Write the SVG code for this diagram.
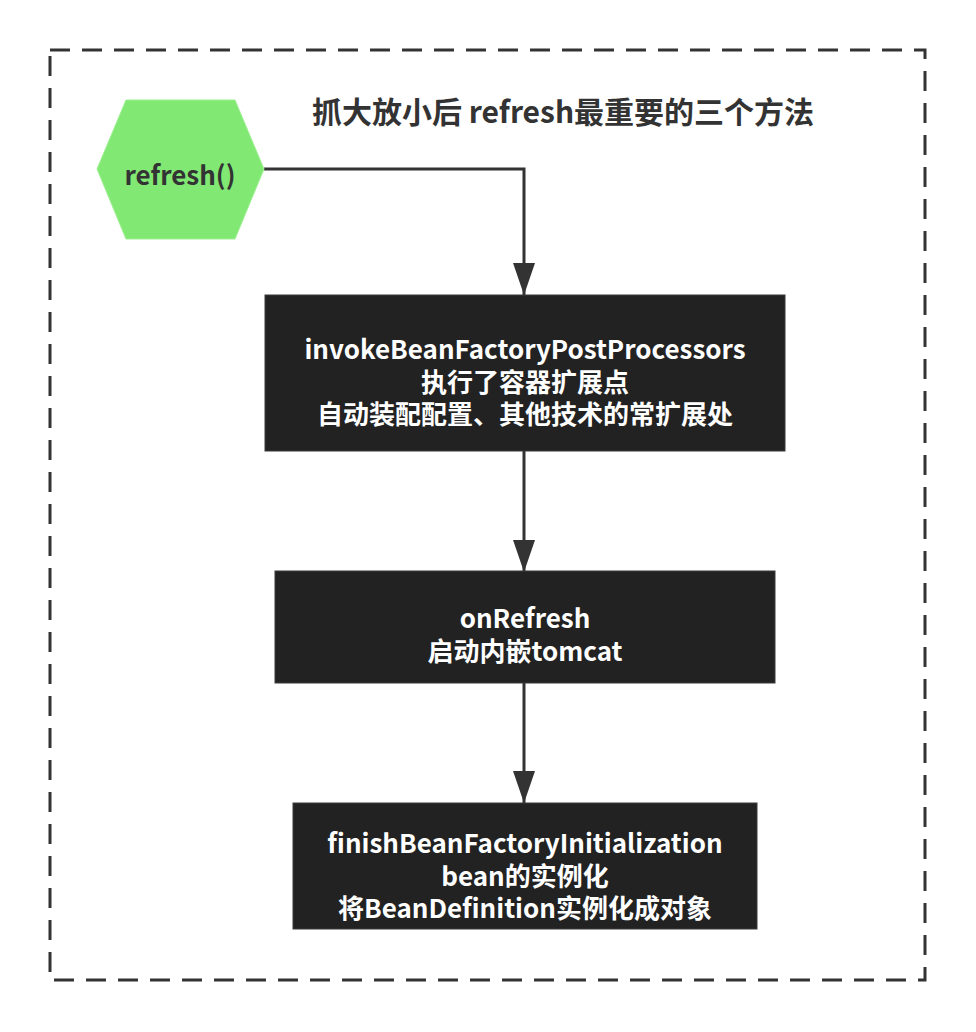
<svg xmlns="http://www.w3.org/2000/svg" width="976" height="1032" viewBox="0 0 976 1032">
<defs>
<style>
.t{font-family:"Noto Sans CJK SC","Noto Sans",sans-serif;font-weight:bold;text-anchor:middle;dominant-baseline:central}
.w{fill:#ffffff;font-size:26px}
.box{fill:#222222;stroke:#3a3a3a;stroke-width:1}
.edge{fill:none;stroke:#333333;stroke-width:3}
</style>
<marker id="ah" markerUnits="userSpaceOnUse" markerWidth="32" markerHeight="22" refX="32" refY="11" orient="auto" viewBox="0 0 32 22">
<path d="M0,0 L32,11 L0,22 Z" fill="#333333"/>
</marker>
</defs>
<rect x="50" y="50" width="875" height="930" fill="none" stroke="#333333" stroke-width="3" stroke-dasharray="20 12"/>
<g id="title">
<text class="t" x="563" y="110" font-size="30" fill="#333333">抓大放小后 refresh最重要的三个方法</text>
</g>
<g id="connectors">
<path class="edge" d="M264,169 L524,169 L524,295" marker-end="url(#ah)"/>
<path class="edge" d="M524,451 L524,572" marker-end="url(#ah)"/>
<path class="edge" d="M524,683 L524,803" marker-end="url(#ah)"/>
</g>
<g id="refresh">
<polygon points="97,169 126,100 235,100 264,169 235,239 126,239" fill="#80e873" stroke="#9ef092" stroke-width="1"/>
<text class="t" x="180" y="173" font-size="26" fill="#333333">refresh()</text>
</g>
<g id="invoke">
<rect class="box" x="265" y="295" width="520" height="156"/>
<text class="t w" x="525" y="347">invokeBeanFactoryPostProcessors</text>
<text class="t w" x="525" y="380">执行了容器扩展点</text>
<text class="t w" x="525" y="412">自动装配配置、其他技术的常扩展处</text>
</g>
<g id="onrefresh">
<rect class="box" x="275" y="571" width="500" height="112"/>
<text class="t w" x="525" y="616">onRefresh</text>
<text class="t w" x="525" y="649">启动内嵌tomcat</text>
</g>
<g id="finish">
<rect class="box" x="293" y="803" width="464" height="126"/>
<text class="t w" x="525" y="841">finishBeanFactoryInitialization</text>
<text class="t w" x="525" y="874">bean的实例化</text>
<text class="t w" x="525" y="906">将BeanDefinition实例化成对象</text>
</g>
</svg>
